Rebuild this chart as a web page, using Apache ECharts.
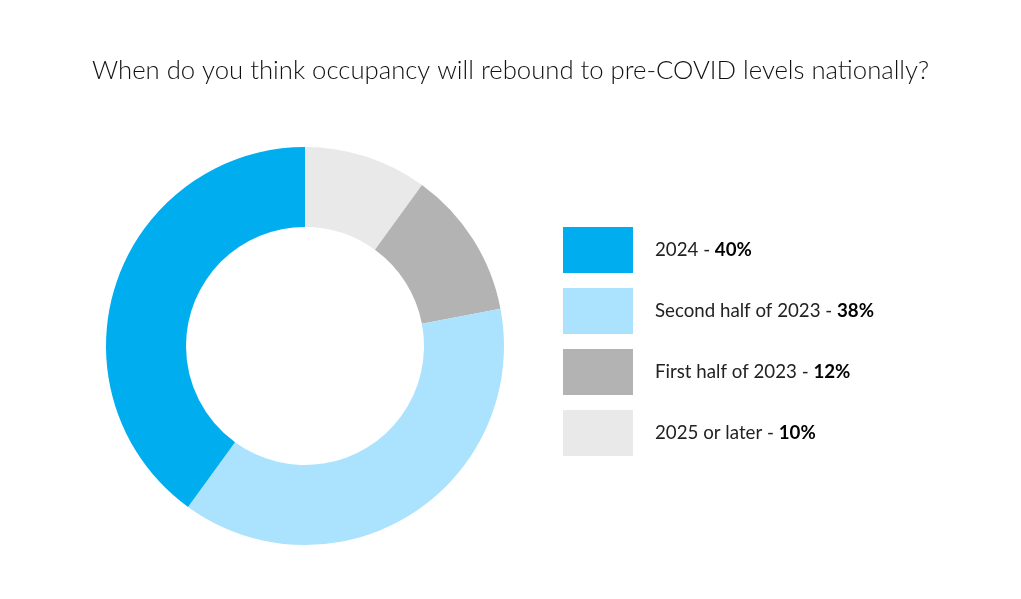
<!DOCTYPE html>
<html>
<head>
<meta charset="utf-8">
<script src="https://cdn.jsdelivr.net/npm/echarts@6/dist/echarts.min.js"></script>
<style>html,body{margin:0;padding:0;background:#fff;}#c{width:1021px;height:599px;}</style>
</head>
<body>
<div id="c"></div>
<script>
const categories = ['2025 or later', 'First half of 2023', 'Second half of 2023', '2024'];
const values = [10, 12, 38, 40];
const colors = ['#E9E9E9', '#B3B3B3', '#ABE2FD', '#00AEEF'];
const legendOrder = ['2024', 'Second half of 2023', 'First half of 2023', '2025 or later'];
const titleText = 'When do you think occupancy will rebound to pre-COVID levels nationally?';

const FONT = 'Lato';
const chart = echarts.init(document.getElementById('c'));
chart.setOption({
  backgroundColor: '#fff',
  title: {
    text: titleText, left: 'center', top: 53,
    textStyle: { fontFamily: FONT, fontWeight: 300, fontSize: 25.7, color: '#111' }
  },
  legend: {
    data: legendOrder, orient: 'vertical', left: 563, top: 227, padding: 0,
    itemWidth: 70, itemHeight: 46, itemGap: 15, icon: 'rect',
    selectedMode: false,
    formatter: function (name) {
      const v = values[categories.indexOf(name)];
      return name + ' - {b|' + v + '%}';
    },
    textStyle: {
      fontFamily: FONT, fontSize: 18.7, color: '#222', padding: [0, 0, 0, 17],
      rich: { b: { fontFamily: FONT, fontSize: 18.7, fontWeight: 'bold', color: '#000' } }
    }
  },
  series: [{
    type: 'pie', center: [305, 346], radius: [119, 199],
    startAngle: 90, clockwise: true, silent: true,
    label: { show: false }, labelLine: { show: false },
    data: categories.map((n, i) => ({ name: n, value: values[i], itemStyle: { color: colors[i] } }))
  }]
});
</script>
</body>
</html>
